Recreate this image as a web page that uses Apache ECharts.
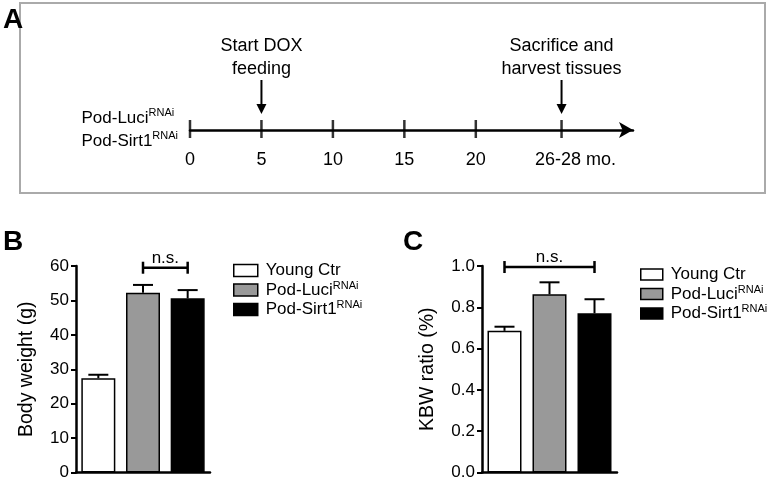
<!DOCTYPE html>
<html>
<head>
<meta charset="utf-8">
<script src="https://cdn.jsdelivr.net/npm/echarts@6/dist/echarts.min.js"></script>
<style>
  html, body { margin: 0; padding: 0; background: #fff; }
  #chart { width: 770px; height: 481px; }
</style>
</head>
<body>
<div id="chart"></div>
<script>
// ---- data ----
const groups = ['Young Ctr', 'Pod-Luci', 'Pod-Sirt1']
const groupSup = ['', 'RNAi', 'RNAi']
const groupFill = ['#ffffff', '#999999', '#000000']

const bodyWeight = [27.4, 52.2, 50.6]
const bodyWeightErr = [1.0, 2.3, 2.4]
const kbwRatio = [0.686, 0.863, 0.771]
const kbwRatioErr = [0.02, 0.058, 0.068]

// timeline (months)
const tickMonths = [0, 5, 10, 15, 20, 26]
const tickLabels = ['0', '5', '10', '15', '20', '26-28 mo.']
const eventMonths = [5, 26]
const eventLabels = ['Start DOX\nfeeding', 'Sacrifice and\nharvest tissues']

// n.s. brackets: [fromIndex, toIndex, yLevel]
const bracketB = [[1, 2, 59.5]]
const bracketC = [[0, 2, 0.995]]

const FONT = '"Liberation Sans", Arial, sans-serif'

const supRich = {
  n: { fontSize: 17, fontFamily: FONT, color: '#000', lineHeight: 20 },
  s: { fontSize: 11, fontFamily: FONT, color: '#000', verticalAlign: 'top' },
}

function groupText(name) {
  const i = groups.indexOf(name)
  return groupSup[i] ? '{n|' + name + '}{s|' + groupSup[i] + '}' : '{n|' + name + '}'
}

function errorBarItem(params, api) {
  const base = api.coord([api.value(0), api.value(1)])
  const top = api.coord([api.value(0), api.value(1) + api.value(2)])
  const style = { stroke: '#000', lineWidth: 2 }
  return {
    type: 'group',
    children: [
      { type: 'line', shape: { x1: base[0], y1: base[1], x2: top[0], y2: top[1] }, style },
      { type: 'line', shape: { x1: top[0] - 10, y1: top[1], x2: top[0] + 10, y2: top[1] }, style },
    ],
  }
}

function bracketItem(params, api) {
  const a = api.coord([api.value(0), api.value(2)])
  const b = api.coord([api.value(1), api.value(2)])
  const style = { stroke: '#000', lineWidth: 2.5 }
  return {
    type: 'group',
    children: [
      { type: 'line', shape: { x1: a[0], y1: a[1], x2: b[0], y2: b[1] }, style },
      { type: 'line', shape: { x1: a[0], y1: a[1] - 6, x2: a[0], y2: a[1] + 6 }, style },
      { type: 'line', shape: { x1: b[0], y1: b[1] - 6, x2: b[0], y2: b[1] + 6 }, style },
      {
        type: 'text',
        style: {
          x: (a[0] + b[0]) / 2, y: a[1] - 1, text: 'n.s.', align: 'center', verticalAlign: 'bottom',
          fontSize: 17, fontFamily: FONT, fill: '#000',
        },
      },
    ],
  }
}

function eventItem(params, api) {
  const p = api.coord([api.value(0), 0])
  const x = p[0]
  const tip = p[1] - 16
  return {
    type: 'group',
    children: [
      { type: 'line', shape: { x1: x, y1: p[1] - 50, x2: x, y2: tip - 8 }, style: { stroke: '#000', lineWidth: 2 } },
      { type: 'polygon', shape: { points: [[x - 5, tip - 10], [x + 5, tip - 10], [x, tip]] }, style: { fill: '#000' } },
      {
        type: 'text',
        style: {
          x: x, y: p[1] - 49, text: eventLabels[params.dataIndex], align: 'center', verticalAlign: 'bottom',
          fontSize: 18, lineHeight: 23, fontFamily: FONT, fill: '#000',
        },
      },
    ],
  }
}

function barSeries(values, axisIdx) {
  return groups.map((g, i) => ({
    type: 'bar',
    name: g,
    xAxisIndex: axisIdx,
    yAxisIndex: axisIdx,
    barWidth: 34,
    barGap: '-100%',
    data: values.map((v, j) => (j === i ? v : '-')),
    itemStyle: { color: groupFill[i], borderColor: '#000', borderWidth: 1.5 },
    silent: true,
  }))
}

function valueAxis(gridIdx, max, interval, name, nameGap, digits) {
  return {
    type: 'value',
    gridIndex: gridIdx,
    min: 0,
    max: max,
    interval: interval,
    name: name,
    nameLocation: 'middle',
    nameGap: nameGap,
    nameTextStyle: { fontSize: 19.5, fontFamily: FONT, color: '#000' },
    axisLine: { show: true, lineStyle: { color: '#000', width: 2.5 } },
    axisTick: { show: true, length: 5, lineStyle: { color: '#000', width: 2 } },
    axisLabel: {
      fontSize: 17, fontFamily: FONT, color: '#000', margin: 7,
      formatter: (v) => v.toFixed(digits),
    },
    splitLine: { show: false },
  }
}

function categoryAxis(gridIdx) {
  return {
    type: 'category',
    gridIndex: gridIdx,
    data: groups,
    axisLine: { lineStyle: { color: '#000', width: 2.5 } },
    axisTick: { show: false },
    axisLabel: { show: false },
  }
}

function legendAt(left, top, itemWidth, itemHeight) {
  return {
    left: left,
    top: top,
    orient: 'vertical',
    data: groups,
    icon: 'rect',
    itemWidth: itemWidth,
    itemHeight: itemHeight,
    itemGap: 1,
    selectedMode: false,
    itemStyle: { borderColor: '#000', borderWidth: 1.5 },
    formatter: groupText,
    textStyle: { rich: supRich, padding: [0, 0, 0, 3] },
  }
}

const chart = echarts.init(document.getElementById('chart'), null, { renderer: 'canvas' })

chart.setOption({
  animation: false,
  textStyle: { fontFamily: FONT },
  grid: [
    { left: 190, top: 121, width: 443, height: 18 },
    { left: 76, top: 266, width: 134, bottom: 8 },
    { left: 482, top: 266, width: 135, bottom: 8 },
  ],
  xAxis: [
    {
      type: 'value',
      gridIndex: 0,
      min: 0,
      max: 31,
      axisLine: {
        onZero: true,
        symbol: ['none', 'arrow'],
        symbolSize: [12, 14],
        lineStyle: { color: '#000', width: 2.5 },
      },
      axisTick: { show: false },
      splitLine: { show: false },
      axisLabel: {
        customValues: tickMonths,
        margin: 12,
        fontSize: 18,
        fontFamily: FONT,
        color: '#000',
        formatter: (v) => {
          const t = tickLabels[tickMonths.indexOf(v)]
          return t.length > 3 ? '{p|' + t + '}' : t
        },
        rich: { p: { fontSize: 18, fontFamily: FONT, color: '#000', padding: [0, 0, 0, 28] } },
      },
    },
    categoryAxis(1),
    categoryAxis(2),
  ],
  yAxis: [
    { type: 'value', gridIndex: 0, min: -1, max: 1, show: false },
    valueAxis(1, 60, 10, 'Body weight (g)', 39, 0),
    valueAxis(2, 1.0, 0.2, 'KBW ratio (%)', 44, 1),
  ],
  legend: [legendAt(228, 257, 24, 12), legendAt(635, 261, 22, 11)],
  series: [
    {
      type: 'scatter',
      xAxisIndex: 0,
      yAxisIndex: 0,
      symbol: 'rect',
      symbolSize: [2.5, 18],
      symbolOffset: [0, -1],
      itemStyle: { color: '#000' },
      data: tickMonths.map((m) => [m, 0]),
      silent: true,
    },
    {
      type: 'custom',
      xAxisIndex: 0,
      yAxisIndex: 0,
      clip: false,
      renderItem: eventItem,
      data: eventMonths.map((m) => [m]),
      silent: true,
    },
    ...barSeries(bodyWeight, 1),
    ...barSeries(kbwRatio, 2),
    {
      type: 'custom', xAxisIndex: 1, yAxisIndex: 1, clip: false, z: 3, renderItem: errorBarItem,
      data: bodyWeight.map((v, i) => [i, v, bodyWeightErr[i]]),
    },
    {
      type: 'custom', xAxisIndex: 2, yAxisIndex: 2, clip: false, z: 3, renderItem: errorBarItem,
      data: kbwRatio.map((v, i) => [i, v, kbwRatioErr[i]]),
    },
    { type: 'custom', xAxisIndex: 1, yAxisIndex: 1, clip: false, renderItem: bracketItem, data: bracketB },
    { type: 'custom', xAxisIndex: 2, yAxisIndex: 2, clip: false, renderItem: bracketItem, data: bracketC },
  ],
  graphic: [
    { type: 'rect', shape: { x: 20, y: 3, width: 745, height: 190 }, style: { fill: 'none', stroke: '#aaaaaa', lineWidth: 2 }, silent: true },
    { type: 'text', left: 3, top: 6, style: { text: 'A', fontSize: 28, fontWeight: 'bold', fontFamily: FONT, fill: '#000' } },
    { type: 'text', left: 3, top: 228, style: { text: 'B', fontSize: 28, fontWeight: 'bold', fontFamily: FONT, fill: '#000' } },
    { type: 'text', left: 403, top: 228, style: { text: 'C', fontSize: 28, fontWeight: 'bold', fontFamily: FONT, fill: '#000' } },
    {
      type: 'text', right: 770 - 178, top: 107,
      style: {
        text: '{n|Pod-Luci}{s|RNAi}\n{n|Pod-Sirt1}{s|RNAi}',
        align: 'right',
        rich: {
          n: { fontSize: 17, fontFamily: FONT, fill: '#000', lineHeight: 23 },
          s: { fontSize: 11, fontFamily: FONT, fill: '#000', verticalAlign: 'top' },
        },
      },
    },
  ],
})
</script>
</body>
</html>
